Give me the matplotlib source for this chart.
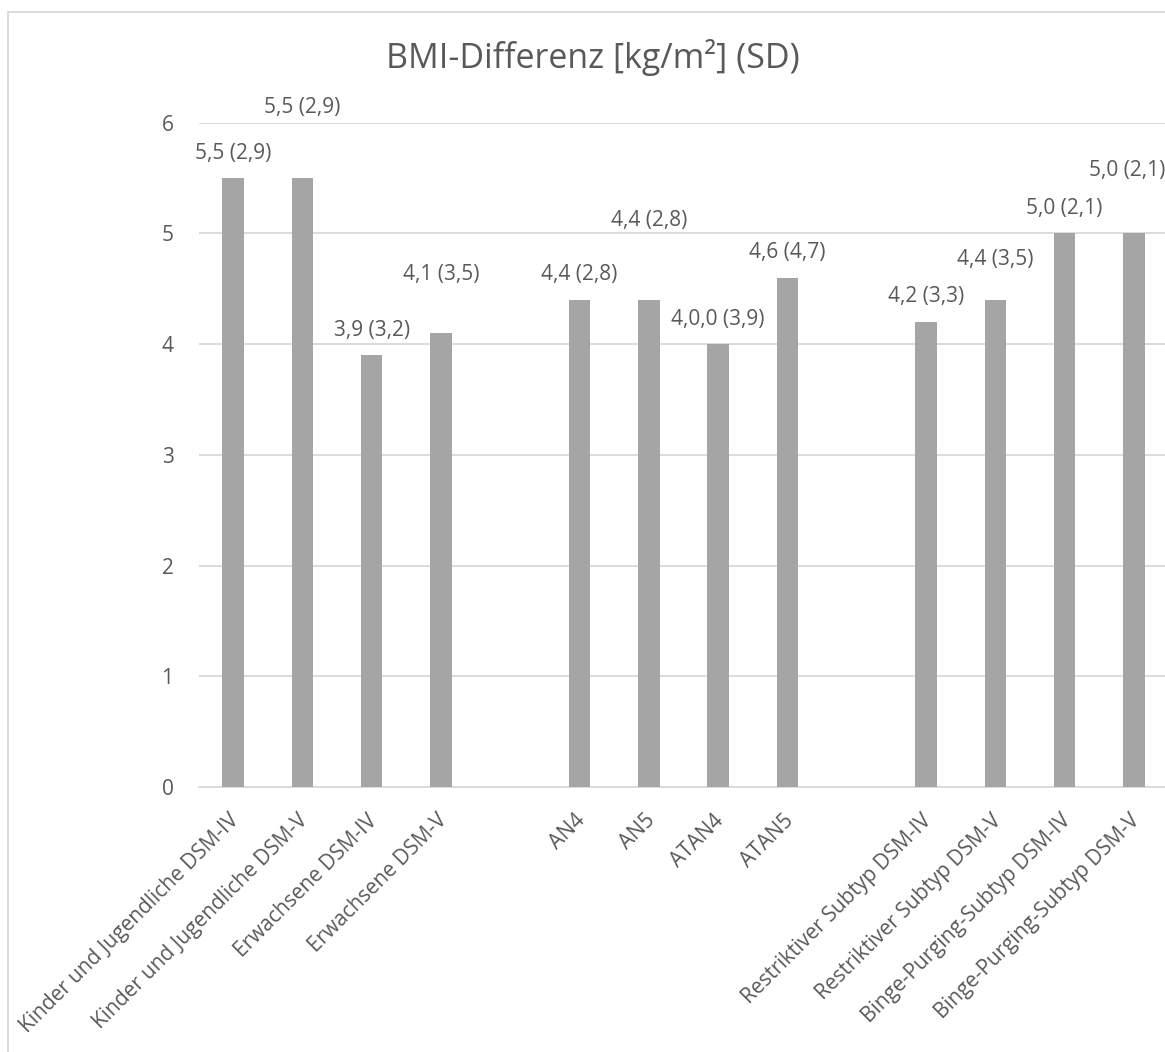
import matplotlib
matplotlib.use("Agg")
import matplotlib.pyplot as plt
from matplotlib.patches import Rectangle

# Categories (empty strings are spacer slots between groups)
categories = [
    "Kinder und Jugendliche DSM-IV", "Kinder und Jugendliche DSM-V",
    "Erwachsene DSM-IV", "Erwachsene DSM-V", "",
    "AN4", "AN5", "ATAN4", "ATAN5", "",
    "Restriktiver Subtyp DSM-IV", "Restriktiver Subtyp DSM-V",
    "Binge-Purging-Subtyp DSM-IV", "Binge-Purging-Subtyp DSM-V",
]
# BMI difference (None = spacer)
bmi_diff = [5.5, 5.5, 3.9, 4.1, None,
            4.4, 4.4, 4.0, 4.6, None,
            4.2, 4.4, 5.0, 5.0]
# Data label texts
value_labels = ["5,5 (2,9)", "5,5 (2,9)", "3,9 (3,2)", "4,1 (3,5)", "",
                "4,4 (2,8)", "4,4 (2,8)", "4,0,0 (3,9)", "4,6 (4,7)", "",
                "4,2 (3,3)", "4,4 (3,5)", "5,0 (2,1)", "5,0 (2,1)"]
y_ticks = [0, 1, 2, 3, 4, 5, 6]

# Label placement offsets (points) above each bar
label_dy = [18, 51, 18, 42, 0, 18, 57, 18, 18, 0, 18, 29, 18, 45]
label_dx = [0, 0, 0, 0, 0, 0, 0, 0, 0, 0, 0, 0, 0, -5]

FONT = ["Open Sans", "DejaVu Sans"]
TEXT = "#595959"
BAR = "#A5A5A5"
GRID = "#D9D9D9"
FS = 15

plt.rcParams["font.family"] = FONT

W, H = 1165, 1052
fig = plt.figure(figsize=(W / 100, H / 100), dpi=100)

# chart frame
fig.patches.append(Rectangle((8 / W, -0.1), 1.2, 1.1 - 12 / H,
                             transform=fig.transFigure, fill=False,
                             edgecolor=GRID, linewidth=1.3))

left, right = 198.5 / W, 1168.6 / W
bottom, top = 1 - 787 / H, 1 - 122.7 / H
ax = fig.add_axes([left, bottom, right - left, top - bottom])

xs = list(range(len(categories)))
for x, v in zip(xs, bmi_diff):
    if v is not None:
        ax.bar(x, v, width=0.31, color=BAR, zorder=3)

for x, v, t, dy, dx in zip(xs, bmi_diff, value_labels, label_dy, label_dx):
    if v is None:
        continue
    ax.annotate(t, (x, v), xytext=(dx, dy), textcoords="offset points",
                ha="center", va="center", fontsize=FS, color=TEXT,
                annotation_clip=False, zorder=4)

ax.set_xlim(-0.5, len(categories) - 0.5)
ax.set_ylim(0, 6)
ax.set_yticks(y_ticks)
ax.set_yticklabels([str(t) for t in y_ticks])
ax.yaxis.grid(True, color=GRID, linewidth=1.3, zorder=0)
ax.set_axisbelow(True)
for s in ["top", "right", "left"]:
    ax.spines[s].set_visible(False)
ax.spines["bottom"].set_color(GRID)
ax.spines["bottom"].set_linewidth(1.3)
ax.tick_params(axis="y", length=0, pad=18, labelsize=FS, labelcolor=TEXT)
ax.tick_params(axis="x", length=0, pad=0)

ax.set_xticks(xs)
ax.set_xticklabels([])
for x, c in zip(xs, categories):
    if c:
        ax.annotate(c, (x, 0), xytext=(2, -22), textcoords="offset points",
                    rotation=45, rotation_mode="anchor", ha="right", va="center",
                    fontsize=FS, color=TEXT, annotation_clip=False)

fig.text(593 / W, 1 - 57 / H, "BMI-Differenz [kg/m²] (SD)", ha="center",
         va="center", fontsize=24.5, color=TEXT)

fig.savefig("out.png", dpi=100, facecolor="white")
